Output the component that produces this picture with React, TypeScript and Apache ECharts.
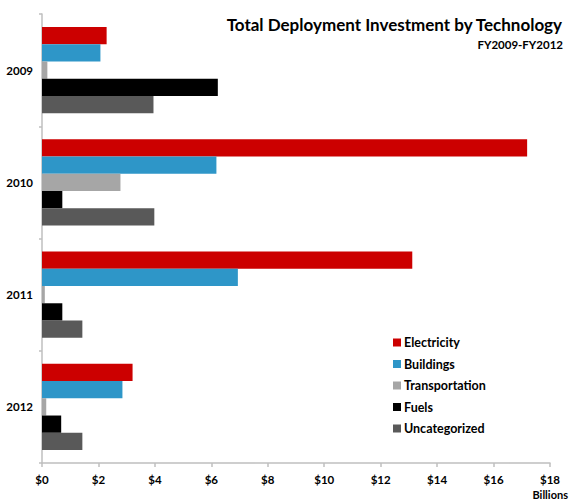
import React, { useEffect, useRef } from "react";
import * as echarts from "echarts";

const categories = ["2009", "2010", "2011", "2012"];
const seriesNames = ["Electricity", "Buildings", "Transportation", "Fuels", "Uncategorized"];
const electricity = [2.29, 17.19, 13.12, 3.21];
const buildings = [2.07, 6.18, 6.94, 2.85];
const transportation = [0.19, 2.78, 0.1, 0.15];
const fuels = [6.23, 0.72, 0.72, 0.68];
const uncategorized = [3.95, 3.98, 1.43, 1.43];
const colors = ["#CC0000", "#2E96C8", "#A6A6A6", "#000000", "#595959"];
const xTicks = { min: 0, max: 18, interval: 2 };

const FONT = "Lato";

export default function App() {
  const ref = useRef<HTMLDivElement>(null);
  useEffect(() => {
    const chart = echarts.init(ref.current!, null, { renderer: "svg" });
    const values = [electricity, buildings, transportation, fuels, uncategorized];
    chart.setOption({
      animation: false,
      textStyle: { fontFamily: FONT },
      grid: { left: 42, right: 28, top: 14, bottom: 41, containLabel: false },
      legend: {
        orient: "vertical",
        left: 388,
        top: 331,
        itemWidth: 8,
        itemHeight: 8,
        itemGap: 8.5,
        icon: "rect",
        data: seriesNames,
        textStyle: { fontFamily: FONT, fontSize: 12.5, fontWeight: "bold", color: "#000", padding: [0, 0, 0, -2] },
      },
      xAxis: {
        type: "value",
        min: xTicks.min,
        max: xTicks.max,
        interval: xTicks.interval,
        splitLine: { show: false },
        axisLine: { show: true, lineStyle: { color: "#BFBFBF", width: 1.5 } },
        axisTick: { show: true, length: 4, lineStyle: { color: "#BFBFBF", width: 1.5 } },
        axisLabel: {
          formatter: (v: number) => "$" + v,
          fontFamily: FONT,
          fontSize: 11.5,
          fontWeight: "bold",
          color: "#000",
          margin: 10,
        },
      },
      yAxis: {
        type: "category",
        data: categories,
        inverse: true,
        axisLine: { show: true, lineStyle: { color: "#BFBFBF", width: 1.5 } },
        axisTick: { show: true, length: 3, lineStyle: { color: "#BFBFBF", width: 1.5 } },
        axisLabel: { fontFamily: FONT, fontSize: 11.5, fontWeight: "bold", color: "#000", margin: 9 },
      },
      graphic: [
        {
          type: "text",
          right: 15,
          top: 16,
          style: {
            text: "Total Deployment Investment by Technology",
            fontFamily: FONT,
            fontSize: 17,
            fontWeight: "bold",
            fill: "#000",
          },
        },
        {
          type: "text",
          right: 15,
          top: 38,
          style: { text: "FY2009-FY2012", fontFamily: FONT, fontSize: 11.5, fontWeight: "bold", fill: "#000" },
        },
        {
          type: "text",
          right: 10,
          top: 489,
          style: { text: "Billions", fontFamily: FONT, fontSize: 11, fontWeight: "bold", fill: "#000" },
        },
      ],
      series: seriesNames.map((name, i) => ({
        name,
        type: "bar",
        data: values[i],
        itemStyle: { color: colors[i] },
        barGap: "0%",
        barCategoryGap: "23%",
      })),
    });
    return () => chart.dispose();
  }, []);
  return <div ref={ref} style={{ position: "absolute", left: 0, top: 0, width: 578, height: 504 }} />;
}
